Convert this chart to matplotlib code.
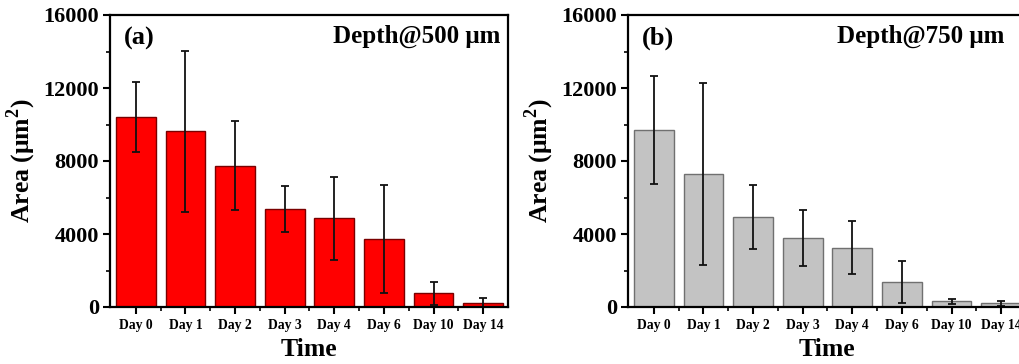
import matplotlib
matplotlib.use("Agg")
import matplotlib.pyplot as plt
from matplotlib.ticker import MultipleLocator, FixedLocator
import numpy as np

categories = ["Day 0", "Day 1", "Day 2", "Day 3", "Day 4", "Day 6", "Day 10", "Day 14"]
area_500 = [10420, 9620, 7740, 5360, 4860, 3720, 750, 240]
err_500 = [1900, 4400, 2430, 1250, 2280, 2960, 620, 250]
area_750 = [9690, 7300, 4940, 3770, 3260, 1380, 310, 200]
err_750 = [2960, 5000, 1760, 1550, 1470, 1150, 150, 130]
yticks = [0, 4000, 8000, 12000, 16000]

plt.rcParams['font.family'] = ['Liberation Serif', 'DejaVu Serif']
plt.rcParams['font.weight'] = 'bold'
plt.rcParams['mathtext.fontset'] = 'custom'
plt.rcParams['mathtext.rm'] = 'Liberation Serif:bold'
plt.rcParams['mathtext.bf'] = 'Liberation Serif:bold'

W, H = 1019, 364
fig = plt.figure(figsize=(W / 100, H / 100), dpi=100)

def make_panel(left_px, values, errs, color, edge, letter, depth, depth_x):
    ax = fig.add_axes([left_px / W, (H - 307) / H, 398 / W, 292 / H])
    x = np.arange(len(categories))
    ax.bar(x, values, width=0.8, color=color, edgecolor=edge, linewidth=1.0,
           yerr=errs, error_kw=dict(ecolor='#111111', elinewidth=1.3, capsize=3, capthick=1.3),
           zorder=2)
    ax.set_xlim(-0.52, 7.5)
    ax.set_ylim(0, 16000)
    ax.set_xticks(x)
    ax.set_xticklabels(categories, fontsize=9.8, fontweight='bold')
    ax.xaxis.set_minor_locator(FixedLocator(x[:-1] + 0.5))
    ax.set_yticks(yticks)
    ax.set_yticklabels([str(v) for v in yticks], fontsize=16, fontweight='bold')
    ax.yaxis.set_minor_locator(MultipleLocator(2000))
    ax.tick_params(which='major', direction='out', length=5, width=1.5, pad=3)
    ax.tick_params(which='minor', direction='out', length=3, width=1.2)
    ax.tick_params(axis='x', which='major', pad=4)
    for s in ax.spines.values():
        s.set_linewidth(1.6)
    ax.set_xlabel('Time', fontsize=18.5, fontweight='bold', labelpad=4)
    ax.set_ylabel(r'Area ($\mathbf{\mu}$m$^{2}$)', fontsize=18.5, fontweight='bold', labelpad=4)
    ax.text(0.035, 0.96, letter, transform=ax.transAxes, fontsize=19, fontweight='bold', va='top', ha='left')
    ax.text(depth_x, 0.965, depth, transform=ax.transAxes, fontsize=18, fontweight='bold', va='top', ha='right')
    return ax

make_panel(110, area_500, err_500, '#ff0000', '#7a0000', '(a)', 'Depth@500 μm', 0.98)
make_panel(628, area_750, err_750, '#c3c3c3', '#707070', '(b)', 'Depth@750 μm', 0.945)

fig.savefig('out.png', dpi=100)
